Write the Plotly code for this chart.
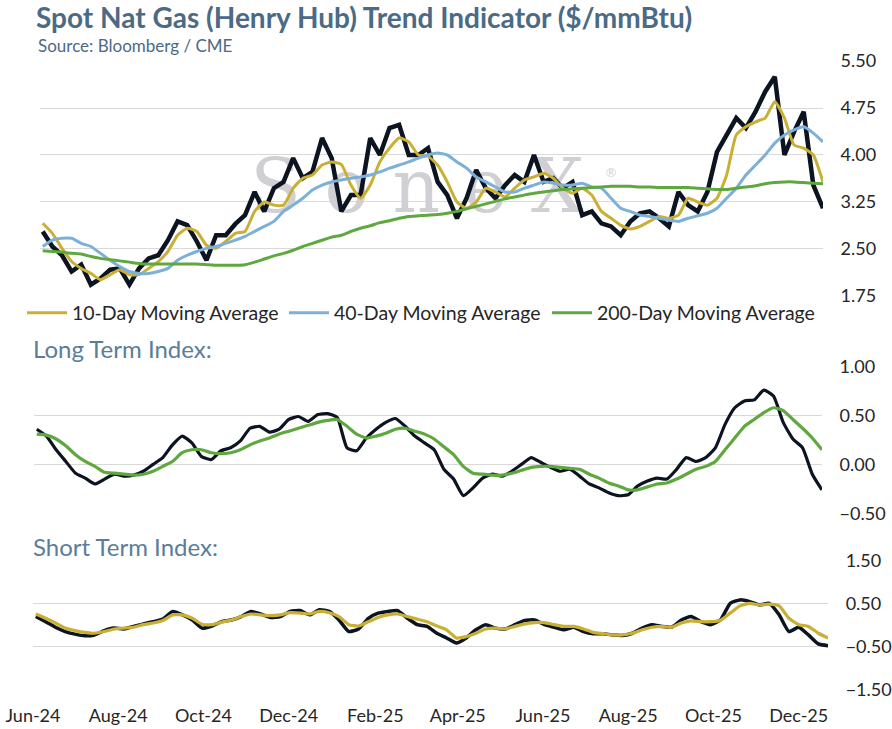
import pandas as pd
import plotly.graph_objects as go

# weekly samples
dates = pd.date_range("2024-06-03", periods=82, freq="7D")

spot = [2.78, 2.54, 2.40, 2.14, 2.25, 1.93, 2.03, 2.17, 2.19, 1.93,
        2.19, 2.35, 2.40, 2.64, 2.94, 2.88, 2.62, 2.32, 2.72, 2.72,
        2.90, 3.04, 3.41, 3.10, 3.47, 3.57, 3.95, 3.63, 3.73, 4.27,
        3.95, 3.10, 3.36, 3.36, 4.27, 4.00, 4.43, 4.48, 4.00, 4.00,
        4.11, 3.57, 3.36, 2.99, 3.31, 3.76, 3.47, 3.31, 3.52, 3.68,
        3.57, 4.00, 3.57, 3.63, 3.47, 3.57, 3.04, 3.10, 2.91, 2.86,
        2.72, 2.94, 3.07, 3.10, 2.99, 2.86, 3.41, 3.20, 3.10, 3.41,
        4.05, 4.32, 4.59, 4.43, 4.69, 5.01, 5.25, 4.00, 4.37, 4.69,
        3.52, 3.15]

ma_10 = [2.91, 2.75, 2.51, 2.30, 2.19, 2.11, 2.01, 2.09, 2.17, 2.09,
         2.09, 2.19, 2.30, 2.46, 2.72, 2.83, 2.78, 2.56, 2.51, 2.62,
         2.75, 2.78, 3.10, 3.25, 3.20, 3.20, 3.47, 3.63, 3.68, 3.84,
         3.89, 3.85, 3.52, 3.31, 3.52, 3.89, 4.11, 4.27, 4.21, 4.00,
         3.98, 3.84, 3.57, 3.25, 3.15, 3.25, 3.47, 3.41, 3.33, 3.47,
         3.60, 3.65, 3.71, 3.63, 3.47, 3.39, 3.47, 3.36, 3.10, 2.99,
         2.88, 2.82, 2.86, 2.94, 3.02, 2.99, 3.04, 3.31, 3.25, 3.20,
         3.31, 3.68, 4.32, 4.45, 4.53, 4.59, 4.85, 4.59, 4.16, 4.11,
         4.00, 3.57]

ma_40 = [2.54, 2.64, 2.67, 2.67, 2.59, 2.54, 2.43, 2.32, 2.22, 2.14,
         2.11, 2.11, 2.14, 2.19, 2.32, 2.40, 2.46, 2.51, 2.54, 2.59,
         2.64, 2.70, 2.78, 2.86, 2.94, 3.10, 3.20, 3.31, 3.44, 3.52,
         3.57, 3.60, 3.63, 3.65, 3.68, 3.73, 3.79, 3.84, 3.89, 3.95,
         4.00, 4.03, 4.00, 3.89, 3.79, 3.65, 3.57, 3.49, 3.41, 3.41,
         3.47, 3.52, 3.57, 3.55, 3.52, 3.52, 3.55, 3.49, 3.47, 3.31,
         3.15, 3.10, 3.04, 3.02, 2.99, 2.96, 2.94, 2.99, 3.03, 3.07,
         3.15, 3.31, 3.47, 3.68, 3.84, 4.00, 4.19, 4.32, 4.40, 4.45,
         4.35, 4.21]

ma_200 = [2.47, 2.46, 2.45, 2.43, 2.42, 2.38, 2.35, 2.33, 2.31, 2.29,
          2.27, 2.26, 2.26, 2.26, 2.26, 2.26, 2.26, 2.25, 2.24, 2.24,
          2.24, 2.25, 2.29, 2.34, 2.39, 2.43, 2.48, 2.54, 2.59, 2.64,
          2.69, 2.72, 2.78, 2.83, 2.87, 2.92, 2.95, 2.99, 3.02, 3.03,
          3.04, 3.05, 3.07, 3.10, 3.14, 3.18, 3.22, 3.26, 3.30, 3.33,
          3.36, 3.39, 3.41, 3.43, 3.45, 3.46, 3.47, 3.48, 3.49, 3.50,
          3.50, 3.50, 3.49, 3.49, 3.48, 3.48, 3.48, 3.48, 3.47, 3.46,
          3.45, 3.45, 3.47, 3.49, 3.51, 3.54, 3.56, 3.57, 3.57, 3.56,
          3.55, 3.54]

long_idx = [0.36, 0.29, 0.15, 0.03, -0.09, -0.14, -0.20, -0.15, -0.10, -0.12,
            -0.11, -0.07, 0.00, 0.07, 0.20, 0.29, 0.22, 0.08, 0.05, 0.14,
            0.17, 0.24, 0.37, 0.39, 0.33, 0.36, 0.46, 0.49, 0.44, 0.51,
            0.52, 0.48, 0.17, 0.14, 0.27, 0.36, 0.43, 0.47, 0.39, 0.29,
            0.22, 0.15, -0.05, -0.15, -0.32, -0.24, -0.14, -0.10, -0.12, -0.07,
            0.00, 0.07, 0.02, -0.03, -0.07, -0.05, -0.12, -0.20, -0.24, -0.29,
            -0.32, -0.31, -0.22, -0.17, -0.14, -0.15, -0.05, 0.07, 0.03, 0.07,
            0.17, 0.41, 0.58, 0.65, 0.66, 0.76, 0.70, 0.43, 0.26, 0.17,
            -0.10, -0.26]

long_avg = [0.31, 0.30, 0.26, 0.19, 0.10, 0.03, -0.02, -0.08, -0.09, -0.10,
            -0.11, -0.10, -0.07, -0.02, 0.03, 0.12, 0.15, 0.15, 0.12, 0.11,
            0.12, 0.15, 0.20, 0.24, 0.27, 0.31, 0.34, 0.37, 0.40, 0.43,
            0.45, 0.46, 0.39, 0.31, 0.27, 0.29, 0.32, 0.36, 0.37, 0.34,
            0.31, 0.26, 0.18, 0.10, -0.02, -0.09, -0.10, -0.11, -0.11, -0.09,
            -0.06, -0.03, -0.02, -0.02, -0.03, -0.04, -0.05, -0.10, -0.14, -0.19,
            -0.22, -0.26, -0.26, -0.23, -0.20, -0.19, -0.15, -0.10, -0.05, -0.02,
            0.03, 0.15, 0.27, 0.39, 0.46, 0.53, 0.58, 0.55, 0.46, 0.37,
            0.27, 0.15]

short_idx = [0.20, 0.08, -0.05, -0.15, -0.21, -0.25, -0.23, -0.13, -0.07, -0.09,
             -0.03, 0.03, 0.08, 0.14, 0.32, 0.24, 0.12, -0.07, -0.02, 0.08,
             0.12, 0.20, 0.32, 0.26, 0.18, 0.20, 0.32, 0.34, 0.24, 0.36,
             0.32, 0.12, -0.15, -0.09, 0.16, 0.28, 0.32, 0.34, 0.16, 0.01,
             -0.03, -0.19, -0.30, -0.42, -0.30, -0.11, 0.01, -0.07, -0.09, 0.01,
             0.11, 0.12, 0.01, -0.05, -0.11, -0.05, -0.15, -0.20, -0.20, -0.23,
             -0.24, -0.19, -0.07, 0.01, -0.03, -0.05, 0.12, 0.20, 0.08, 0.01,
             0.12, 0.51, 0.59, 0.55, 0.47, 0.51, 0.24, -0.15, -0.05, -0.23,
             -0.44, -0.48]

short_avg = [0.26, 0.16, 0.05, -0.07, -0.13, -0.17, -0.19, -0.15, -0.09, -0.07,
             -0.05, 0.01, 0.05, 0.11, 0.24, 0.24, 0.16, 0.02, 0.01, 0.07,
             0.12, 0.20, 0.26, 0.24, 0.22, 0.24, 0.29, 0.28, 0.26, 0.32,
             0.29, 0.20, 0.01, -0.02, 0.08, 0.18, 0.24, 0.26, 0.20, 0.14,
             0.08, -0.02, -0.11, -0.30, -0.27, -0.19, -0.09, -0.07, -0.09, -0.03,
             0.03, 0.06, 0.06, 0.01, -0.03, -0.03, -0.09, -0.17, -0.20, -0.23,
             -0.23, -0.19, -0.11, -0.05, -0.03, -0.05, 0.05, 0.10, 0.08, 0.08,
             0.11, 0.28, 0.45, 0.51, 0.47, 0.49, 0.45, 0.16, 0.01, -0.03,
             -0.19, -0.30]

price_ticks = [1.75, 2.50, 3.25, 4.00, 4.75, 5.50]
long_ticks = [-0.50, 0.00, 0.50, 1.00]
short_ticks = [-1.50, -0.50, 0.50, 1.50]
month_ticks = pd.date_range("2024-06-01", "2025-12-01", freq="2MS")
month_labels = [d.strftime("%b-%y") for d in month_ticks]
x_range = ["2024-06-01", "2025-12-22"]

FONT = "Lato"
HEAD = "#4b6a86"
SUB_HEAD = "#5a7d9b"
BLACK = "#0b1420"
GOLD = "#c9b034"
BLUE = "#7db0d9"
GREEN = "#5ea83f"
GRID = "#d9d9d9"

fig = go.Figure()

# faint watermark behind the price lines
fig.add_trace(go.Scatter(
    x=[pd.Timestamp("2025-03-02")], y=[3.39], mode="text",
    text=["S o n e X"],
    textfont=dict(family="DejaVu Serif", size=74, color="#d0d0d4"),
    showlegend=False, hoverinfo="skip", xaxis="x", yaxis="y",
))
fig.add_trace(go.Scatter(
    x=[pd.Timestamp("2025-07-21")], y=[3.70], mode="text", text=["®"],
    textfont=dict(family="DejaVu Sans", size=13, color="#d0d0d4"),
    showlegend=False, hoverinfo="skip", xaxis="x", yaxis="y",
))


def add_line(y, color, width, xa, ya, name=None, legend=None, shape="spline"):
    fig.add_trace(go.Scatter(
        x=dates, y=y, mode="lines", name=name, showlegend=legend is not None,
        legend=legend or "legend",
        line=dict(color=color, width=width, shape=shape, smoothing=0.5),
        xaxis=xa, yaxis=ya, hoverinfo="skip",
    ))


add_line(spot, BLACK, 4.5, "x", "y", shape="linear")
add_line(ma_10, GOLD, 3, "x", "y", "10-Day Moving Average", "legend")
add_line(ma_40, BLUE, 3, "x", "y", "40-Day Moving Average", "legend2")
add_line(ma_200, GREEN, 3, "x", "y", "200-Day Moving Average", "legend3")

add_line(long_idx, BLACK, 3.2, "x2", "y2")
add_line(long_avg, GREEN, 3.2, "x2", "y2")

add_line(short_idx, BLACK, 3.5, "x3", "y3")
add_line(short_avg, GOLD, 3.2, "x3", "y3")

tick_font = dict(family=FONT, size=18, color="#262626")
y_common = dict(side="right", showgrid=True, gridcolor=GRID, gridwidth=1, zeroline=False,
                showline=False, ticks="outside", ticklen=13, tickcolor="rgba(0,0,0,0)",
                tickfont=tick_font, tickformat=".2f", automargin=False)
x_common = dict(type="date", range=x_range, showgrid=False, zeroline=False, showline=False,
                automargin=False)


def legend_at(px):
    return dict(orientation="h", x=px / 892, y=0.5706, xanchor="left", yanchor="middle",
                itemwidth=40, font=dict(family=FONT, size=19.5, color="#262626"),
                bgcolor="rgba(0,0,0,0)")


fig.update_layout(
    width=892, height=729,
    margin=dict(l=0, r=0, t=0, b=0, autoexpand=False),
    paper_bgcolor="white", plot_bgcolor="white",
    font=dict(family=FONT, color="#262626"),
    xaxis=dict(domain=[0.0448, 0.9226], anchor="y", showticklabels=False, **x_common),
    yaxis=dict(domain=[0.594, 0.9163], anchor="x", range=[1.75, 5.5], tickvals=price_ticks, **y_common),
    xaxis2=dict(domain=[0.0381, 0.9215], anchor="y2", showticklabels=False, **x_common),
    yaxis2=dict(domain=[0.2959, 0.4970], anchor="x2", range=[-0.5, 1.0], tickvals=long_ticks, **y_common),
    xaxis3=dict(domain=[0.0370, 0.9283], anchor="y3", tickvals=month_ticks, ticktext=month_labels,
                ticks="outside", ticklen=10, tickcolor="rgba(0,0,0,0)", tickfont=tick_font, **x_common),
    yaxis3=dict(domain=[0.0545, 0.2305], anchor="x3", range=[-1.5, 1.5], tickvals=short_ticks, **y_common),
    legend=legend_at(22),
    legend2=legend_at(284),
    legend3=legend_at(547),
    showlegend=True,
)

fig.add_annotation(text="<b>Spot Nat Gas (Henry Hub) Trend Indicator ($/mmBtu)</b>",
                   xref="paper", yref="paper", x=34 / 892, y=1 - 17 / 729,
                   xanchor="left", yanchor="middle", showarrow=False,
                   font=dict(family=FONT, size=28, color=HEAD))
fig.add_annotation(text="Source: Bloomberg / CME", xref="paper", yref="paper",
                   x=36 / 892, y=1 - 45 / 729, xanchor="left", yanchor="middle", showarrow=False,
                   font=dict(family=FONT, size=17, color=HEAD))
fig.add_annotation(text="Long Term Index:", xref="paper", yref="paper",
                   x=31 / 892, y=1 - 348 / 729, xanchor="left", yanchor="middle", showarrow=False,
                   font=dict(family=FONT, size=24, color=SUB_HEAD))
fig.add_annotation(text="Short Term Index:", xref="paper", yref="paper",
                   x=31 / 892, y=1 - 546 / 729, xanchor="left", yanchor="middle", showarrow=False,
                   font=dict(family=FONT, size=24, color=SUB_HEAD))

# drop the page's default body margin so the figure sits at the window's corner
fig.write_html("out.html", config={"displayModeBar": False},
               post_script="document.body.style.margin='0';document.body.style.overflow='hidden';")
